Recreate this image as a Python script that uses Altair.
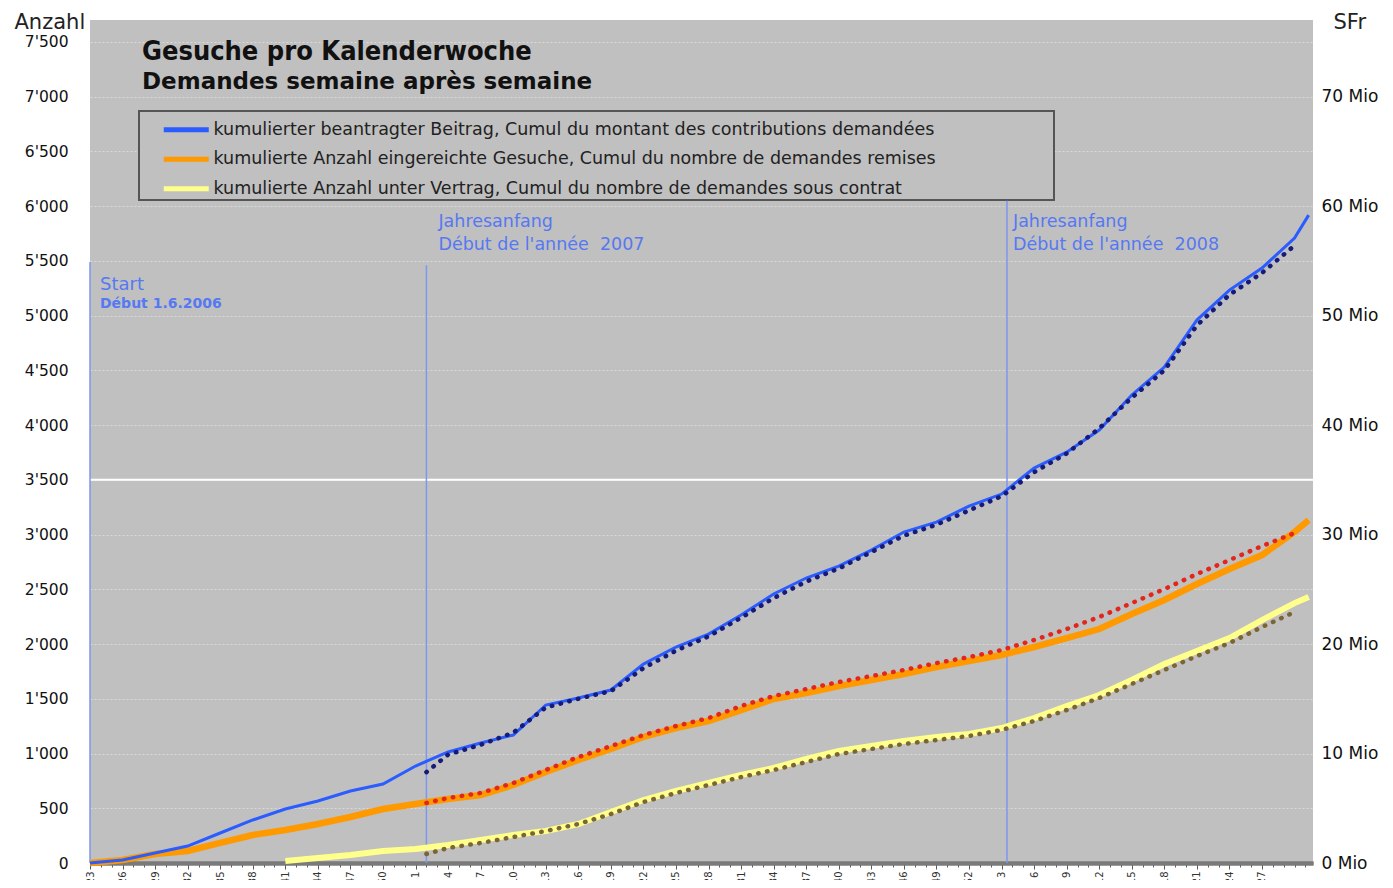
import json
import altair as alt
import pandas as pd

# ---------------- data ----------------
legend_labels = [
    "kumulierter beantragter Beitrag, Cumul du montant des contributions demandées",
    "kumulierte Anzahl eingereichte Gesuche, Cumul du nombre de demandes remises",
    "kumulierte Anzahl unter Vertrag, Cumul du nombre de demandes sous contrat",
]
series_colors = ["#2a5cff", "#ff9900", "#ffff8c"]

# calendar-week tick labels, every 3rd week starting 2006 wk 23
week_labels = ["23", "26", "29", "32", "35", "38", "41", "44", "47", "50",
               "1", "4", "7", "10", "13", "16", "19", "22", "25", "28", "31", "34",
               "37", "40", "43", "46", "49", "52",
               "3", "6", "9", "12", "15", "18", "21", "24", "27"]

# week index since 1.6.2006 (2006 wk 23 = 0)
step_idx = [0, 3, 6, 9, 12, 15, 18, 21, 24, 27, 30, 33, 36, 39, 42, 45, 48, 51, 54,
            57, 60, 63, 66, 69, 72, 75, 78, 81, 84, 87, 90, 93, 96, 99, 102, 105,
            108, 111, 112.3]
blue_mio = [0, 0.27, 0.91, 1.55, 2.74, 3.93, 4.93, 5.66, 6.58, 7.21, 8.86, 10.14,
            10.96, 11.69, 14.43, 15.07, 15.80, 18.17, 19.73, 20.91, 22.65, 24.57,
            26.03, 27.12, 28.58, 30.23, 31.14, 32.60, 33.70, 36.07, 37.53, 39.54,
            42.74, 45.30, 49.59, 52.33, 54.34, 57.08, 59.18]
orange_n = [0, 27, 82, 110, 183, 256, 301, 356, 420, 493, 539, 584, 621, 712, 831,
            941, 1041, 1151, 1233, 1297, 1397, 1498, 1553, 1616, 1671, 1726, 1790,
            1845, 1900, 1973, 2055, 2137, 2274, 2402, 2548, 2685, 2813, 3023, 3132]

yellow_idx = [18, 21, 24, 27, 30, 33, 36, 39, 42, 45, 48, 51, 54, 57, 60, 63, 66,
              69, 72, 75, 78, 81, 84, 87, 90, 93, 96, 99, 102, 105, 108, 111, 112.3]
yellow_n = [18, 46, 73, 110, 128, 164, 210, 256, 292, 356, 466, 575, 658, 731, 804,
            868, 950, 1023, 1068, 1114, 1151, 1178, 1233, 1324, 1434, 1534, 1671,
            1817, 1936, 2055, 2219, 2374, 2429]

trend_idx = [31, 33, 36, 39, 42, 45, 48, 51, 54, 57, 60, 63, 66, 69, 72, 75, 78, 81,
             84, 87, 90, 93, 96, 99, 102, 105, 108, 111]
blue_trend_mio = [8.3, 9.9, 10.8, 11.9, 14.2, 15.0, 15.7, 17.8, 19.4, 20.7, 22.4,
                  24.2, 25.7, 26.9, 28.4, 29.9, 30.9, 32.2, 33.5, 35.7, 37.4, 39.7,
                  42.5, 45.0, 49.1, 51.9, 53.9, 56.4]
red_trend_n = [548, 594, 640, 730, 850, 968, 1068, 1169, 1251, 1324, 1434, 1525,
               1589, 1653, 1708, 1763, 1826, 1881, 1945, 2037, 2137, 2247, 2374,
               2502, 2639, 2767, 2895, 3014]
brown_trend_n = [82, 137, 183, 237, 292, 356, 447, 557, 639, 712, 785, 849, 922,
                 995, 1041, 1087, 1123, 1160, 1215, 1297, 1397, 1507, 1635, 1763,
                 1890, 2009, 2155, 2292]

year_idx = [0, 31, 84.5]
year_top = [5490, 5460, 6050]

# ---------------- tables ----------------
df_blue = pd.DataFrame({"idx": step_idx, "mio": blue_mio, "series": legend_labels[0]})
df_orange = pd.DataFrame({"idx": step_idx, "n": orange_n, "series": legend_labels[1]})
df_yellow = pd.DataFrame({"idx": yellow_idx, "n": yellow_n, "series": legend_labels[2]})
df_btrend = pd.DataFrame({"idx": trend_idx, "mio": blue_trend_mio})
df_rtrend = pd.DataFrame({"idx": trend_idx, "n": red_trend_n})
df_ytrend = pd.DataFrame({"idx": trend_idx, "n": brown_trend_n})
df_years = pd.DataFrame({"idx": year_idx, "n": [0] * len(year_idx), "top": year_top})
df_white = pd.DataFrame({"n": [3500]})
one = pd.DataFrame({"a": [0]})

FONT = "DejaVu Sans"
COND = "DejaVu Sans Condensed, Liberation Sans Narrow, DejaVu Sans"
TXT_BLUE = "#5678f2"

# ---------------- scales / axes ----------------
x_scale = alt.Scale(domain=[0, 112.7], nice=False, zero=False)
yl_scale = alt.Scale(domain=[0, 7700], nice=False, zero=True)
yr_scale = alt.Scale(domain=[0, 77], nice=False, zero=True)
color_scale = alt.Scale(domain=legend_labels, range=series_colors)

label_js = json.dumps(week_labels)
# labelled axis: every 3rd week
x_axis = alt.Axis(
    orient="bottom",
    values=list(range(0, 3 * len(week_labels), 3)), tickCount=500,
    labelExpr=f"{label_js}[round(datum.value / 3)]",
    labelAngle=270, labelAlign="right", labelBaseline="middle",
    labelFontSize=10, labelColor="#333", labelFont=FONT, labelPadding=2,
    labelOverlap=False, labelBound=False, labelFlush=False,
    tickSize=6, tickColor="#555", tickWidth=1,
    domainColor="#7a7a7a", domainWidth=4, grid=False, title=None,
)
# weekly tick ruler (no labels)
x_axis_ticks = alt.Axis(
    orient="bottom",
    values=list(range(0, 113)), tickCount=500,
    labels=False, tickSize=4, tickColor="#5a5a5a", tickWidth=1,
    domainColor="#7a7a7a", domainWidth=4, grid=False, title=None,
)
left_axis = alt.Axis(
    values=list(range(0, 7501, 500)), tickCount=100,
    labelExpr="replace(format(datum.value, ','), ',', \"'\")",
    grid=True, gridColor="#dadada", gridDash=[2, 2], gridWidth=1.2,
    ticks=False, domain=False,
    labelFontSize=15.5, labelFontWeight="normal", labelColor="#111", labelFont=FONT,
    labelPadding=22,
    title="Anzahl", titleAngle=0, titleX=-76, titleY=8, titleAlign="left",
    titleBaseline="alphabetic", titleFontSize=21, titleFontWeight="normal",
    titleColor="#222", titleFont=FONT,
)
right_axis = alt.Axis(
    orient="right", values=list(range(0, 71, 10)), tickCount=100,
    labelExpr="datum.value + ' Mio'",
    grid=False, ticks=False, domain=False,
    labelFontSize=17, labelFontWeight="normal", labelColor="#111", labelFont=FONT,
    labelPadding=8,
    title="SFr", titleAngle=0, titleX=20, titleY=8, titleAlign="left",
    titleBaseline="alphabetic", titleFontSize=21, titleFontWeight="normal",
    titleColor="#222", titleFont=FONT,
)
legend = alt.Legend(
    orient="none", legendX=87.5, legendY=101, title=None,
    symbolType="M-4.5,0H4.5", symbolSize=100, symbolStrokeWidth=5,
    labelFontSize=17.5, labelFont=FONT, labelColor="#222", labelLimit=1200,
    rowPadding=8.5, labelOffset=18.5, padding=0, direction="vertical",
)

X = alt.X("idx:Q", scale=x_scale, axis=x_axis)
Xt = alt.X("idx:Q", scale=x_scale, axis=x_axis_ticks)
Xp = alt.X("idx:Q", scale=x_scale)

# ---------------- left-scale layers ----------------
frame = alt.Chart(one).mark_rect(fill="#c0c0c0", stroke="#555555", strokeWidth=2).encode(
    x=alt.value(49), x2=alt.value(964), y=alt.value(91), y2=alt.value(180)
)
white_rule = alt.Chart(df_white).mark_rule(color="white", strokeWidth=2).encode(
    y=alt.Y("n:Q", scale=yl_scale, axis=left_axis)
)
year_rules = alt.Chart(df_years).mark_rule(color="#7b97f0", strokeWidth=1.5).encode(
    x=X, y=alt.Y("n:Q", scale=yl_scale), y2="top:Q"
)
orange_line = alt.Chart(df_orange).mark_line(strokeWidth=6.5).encode(
    x=Xp, y=alt.Y("n:Q", scale=yl_scale),
    color=alt.Color("series:N", scale=color_scale, legend=legend),
)
yellow_line = alt.Chart(df_yellow).mark_line(strokeWidth=6).encode(
    x=Xp, y=alt.Y("n:Q", scale=yl_scale),
    color=alt.Color("series:N", scale=color_scale, legend=legend),
)
red_dots = alt.Chart(df_rtrend).mark_line(
    color="#e3261b", strokeWidth=4.5, strokeDash=[0.5, 8.5], strokeCap="round"
).encode(x=Xp, y=alt.Y("n:Q", scale=yl_scale))
brown_dots = alt.Chart(df_ytrend).mark_line(
    color="#7d6434", strokeWidth=4.5, strokeDash=[0.5, 8.5], strokeCap="round"
).encode(x=Xp, y=alt.Y("n:Q", scale=yl_scale))


def ann(text, i, n, size, dx, weight="normal"):
    return alt.Chart(one).mark_text(
        text=text, align="left", baseline="middle", dx=dx, fontSize=size,
        font=FONT, fontWeight=weight, color=TXT_BLUE,
    ).encode(x=alt.X(datum=i, scale=x_scale), y=alt.Y(datum=n, scale=yl_scale))


annots = [
    ann("Start", year_idx[0], 5280, 18, 10),
    ann("Début 1.6.2006", year_idx[0], 5105, 14, 10, "bold"),
    ann("Jahresanfang", year_idx[1], 5855, 17.5, 12),
    ann("Début de l'année\u00a0\u00a02007", year_idx[1], 5645, 17.5, 12),
    ann("Jahresanfang", year_idx[2], 5855, 17.5, 6),
    ann("Début de l'année\u00a0\u00a02008", year_idx[2], 5645, 17.5, 6),
]

title1 = alt.Chart(one).mark_text(
    text="Gesuche pro Kalenderwoche", align="left", baseline="middle",
    font=COND, fontSize=27, fontWeight="bold", color="#111",
).encode(x=alt.value(52), y=alt.value(32))
title2 = alt.Chart(one).mark_text(
    text="Demandes semaine après semaine", align="left", baseline="middle",
    font=FONT, fontSize=23, fontWeight="bold", color="#111",
).encode(x=alt.value(52), y=alt.value(62))

left_layers = alt.layer(
    white_rule, frame, year_rules, orange_line, yellow_line, red_dots, brown_dots,
    *annots, title1, title2,
)

# ---------------- right-scale layers (CHF) ----------------
blue_line = alt.Chart(df_blue).mark_line(strokeWidth=3).encode(
    x=Xt, y=alt.Y("mio:Q", scale=yr_scale, axis=right_axis),
    color=alt.Color("series:N", scale=color_scale, legend=legend),
)
blue_dots = alt.Chart(df_btrend).mark_line(
    color="#161a78", strokeWidth=4.5, strokeDash=[0.5, 8.5], strokeCap="round"
).encode(x=Xp, y=alt.Y("mio:Q", scale=yr_scale))
right_layers = alt.layer(blue_line, blue_dots)

chart = (
    alt.layer(left_layers, right_layers)
    .resolve_scale(y="independent")
    .resolve_axis(x="independent")
    .properties(
        width=1223, height=843,
        autosize=alt.AutoSizeParams(type="none"),
        padding={"left": 82, "top": 12, "right": 72, "bottom": 17},
        background="white",
    )
    .configure_view(fill="#c0c0c0", stroke=None)
)

chart.save("out.html", embed_options={"renderer": "svg", "actions": False})
